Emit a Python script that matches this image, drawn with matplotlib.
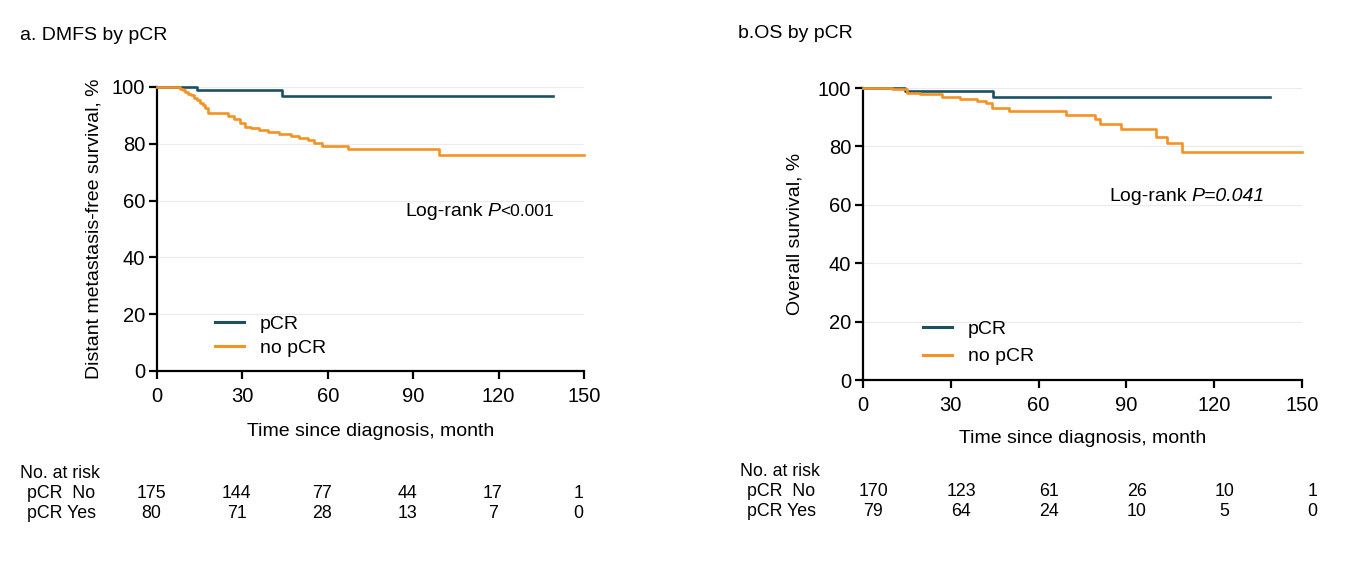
import matplotlib
matplotlib.use('Agg')
import matplotlib.pyplot as plt
import matplotlib.transforms as mtrans
from matplotlib.lines import Line2D

plt.rcParams['font.family'] = ['Liberation Sans', 'DejaVu Sans']

W, H = 1370, 564

# panel a: DMFS
a_pcr_t = [0, 14, 44]
a_pcr_s = [100, 98.9, 96.9]
a_pcr_end = 139
a_no_t = [0, 8, 9, 10, 11, 12, 13, 14, 15, 16, 17, 18, 25, 27, 29, 31, 33, 36, 39, 43, 47, 50, 53, 55, 58, 67, 99]
a_no_s = [100, 99.4, 98.9, 98.3, 97.7, 97.1, 96.0, 95.4, 94.3, 93.7, 92.6, 91.0, 89.7, 88.6, 87.4,
          86.0, 85.5, 85.0, 84.3, 83.4, 82.6, 82.0, 81.3, 80.3, 79.2, 78.2, 76.1]
a_no_end = 150
a_risk_no = [175, 144, 77, 44, 17, 1]
a_risk_yes = [80, 71, 28, 13, 7, 0]

# panel b: OS
b_pcr_t = [0, 14.3, 44.3]
b_pcr_s = [100, 99.0, 97.0]
b_pcr_end = 139
b_no_t = [0, 10, 15, 19.5, 27, 33, 39, 42, 44, 50, 69.3, 79.3, 81, 88, 100, 104, 109]
b_no_s = [100, 99.5, 98.4, 97.8, 97.0, 96.2, 95.5, 94.8, 93.0, 92.1, 90.8, 89.4, 87.7, 85.9, 83.3, 81.1, 78.0]
b_no_end = 150
b_risk_no = [170, 123, 61, 26, 10, 1]
b_risk_yes = [79, 64, 24, 10, 5, 0]

risk_times = [0, 30, 60, 90, 120, 150]

c_pcr = '#1c5163'
c_no = '#f39324'


def fx(px):
    return px / W


def fy(py):
    return 1 - py / H


def step(ax, t, s, end, color):
    ax.step(t + [end], s + [s[-1]], where='post', color=color, lw=1.9, clip_on=False, zorder=3)


def setup(ax, ylabel, xpad, ypad):
    ax.set_xlim(0, 150)
    ax.set_ylim(0, 100)
    ax.set_xticks(range(0, 151, 30))
    ax.set_yticks(range(0, 101, 20))
    for s in ['top', 'right']:
        ax.spines[s].set_visible(False)
    for s in ['left', 'bottom']:
        ax.spines[s].set_linewidth(1.6)
    ax.tick_params(direction='out', length=5.5, width=1.6, labelsize=14.5)
    ax.tick_params(axis='x', pad=6)
    ax.tick_params(axis='y', pad=3)
    ax.yaxis.grid(True, color='#ebebeb', lw=0.8)
    ax.set_axisbelow(True)
    ax.set_xlabel('Time since diagnosis, month', fontsize=14, labelpad=xpad)
    ax.set_ylabel(ylabel, fontsize=14, labelpad=ypad)


fig = plt.figure(figsize=(W / 100, H / 100), dpi=100)

ax1 = fig.add_axes([fx(157), fy(371), fx(584 - 157), (371 - 87) / H])
ax2 = fig.add_axes([fx(863), fy(380), fx(1302 - 863), (380 - 88) / H])

setup(ax1, 'Distant metastasis-free survival, %', 12, 7)
setup(ax2, 'Overall survival, %', 11, 10)

step(ax1, a_pcr_t, a_pcr_s, a_pcr_end, c_pcr)
step(ax1, a_no_t, a_no_s, a_no_end, c_no)
step(ax2, b_pcr_t, b_pcr_s, b_pcr_end, c_pcr)
step(ax2, b_no_t, b_no_s, b_no_end, c_no)

handles = [Line2D([], [], color=c_pcr, lw=2.2), Line2D([], [], color=c_no, lw=2.2)]
labels = ['pCR', 'no pCR']
ax1.legend(handles, labels, loc='upper left', bbox_to_anchor=(0.136, 0.197), frameon=False,
           fontsize=14, handlelength=1.5, handletextpad=0.8, labelspacing=0.35,
           borderpad=0, borderaxespad=0)
ax2.legend(handles, labels, loc='upper left', bbox_to_anchor=(0.137, 0.204), frameon=False,
           fontsize=14, handlelength=1.5, handletextpad=0.8, labelspacing=0.5,
           borderpad=0, borderaxespad=0)

# log-rank annotations
t1 = fig.text(fx(405), fy(211), 'Log-rank', fontsize=14, va='center')
t2 = ax1.annotate('P', xy=(1, 0), xycoords=t1, xytext=(3.5, 0), textcoords='offset points',
                  fontsize=14, style='italic', va='bottom')
ax1.annotate('<0.001', xy=(1, 0), xycoords=t2, fontsize=12.5, va='bottom')
t3 = fig.text(fx(1109), fy(197), 'Log-rank', fontsize=14, va='center')
ax2.annotate('P=0.041', xy=(1, 0), xycoords=t3, xytext=(3.5, 0), textcoords='offset points',
             fontsize=14, style='italic', va='bottom')

# titles
fig.text(fx(20), fy(35), 'a. DMFS by pCR', fontsize=14, va='center')
fig.text(fx(738), fy(33), 'b.OS by pCR', fontsize=14, va='center')


def risk_table(ax, x0, y0, no, yes, shift):
    fig.text(fx(x0), fy(y0), 'No. at risk', fontsize=12.8, va='center')
    fig.text(fx(x0 + 7), fy(y0 + 20), 'pCR  No', fontsize=12.8, va='center')
    fig.text(fx(x0 + 7), fy(y0 + 40), 'pCR Yes', fontsize=12.8, va='center')
    tr = mtrans.blended_transform_factory(ax.transData, fig.transFigure)
    for t, n, y in zip(risk_times, no, yes):
        ax.text(t + shift, fy(y0 + 20), str(n), transform=tr,
                fontsize=12.8, ha='center', va='center', clip_on=False)
        ax.text(t + shift, fy(y0 + 40), str(y), transform=tr,
                fontsize=12.8, ha='center', va='center', clip_on=False)


risk_table(ax1, 20, 474, a_risk_no, a_risk_yes, -2)
risk_table(ax2, 740, 472, b_risk_no, b_risk_yes, 3.5)

fig.savefig('out.png', dpi=100)
